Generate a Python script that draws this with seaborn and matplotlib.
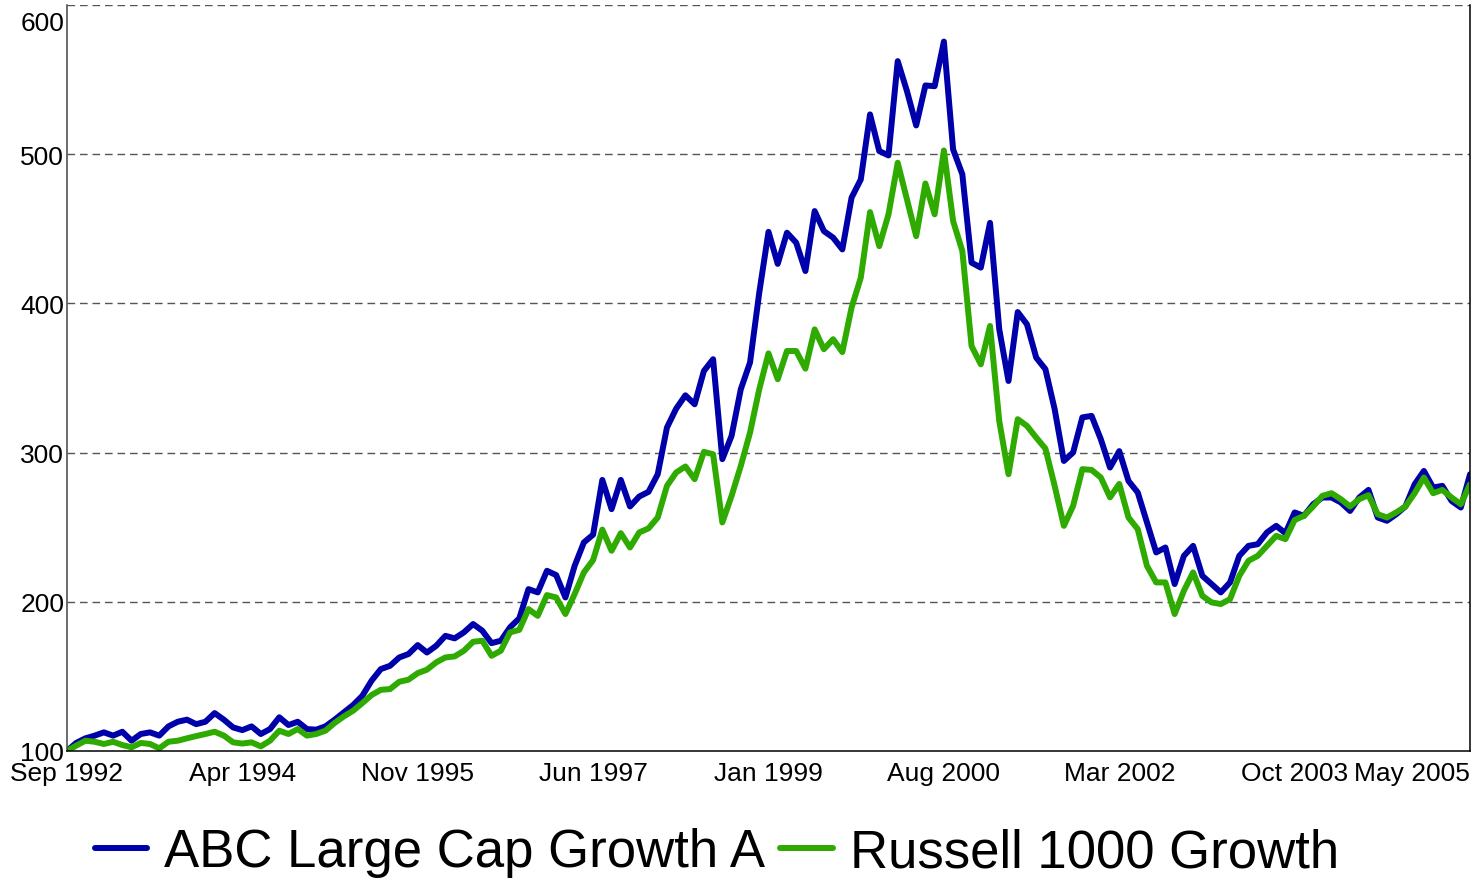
import numpy as np
import pandas as pd
import seaborn as sns
import matplotlib.pyplot as plt
import matplotlib.transforms as mtransforms

# monthly growth of 100, Sep 1992 - May 2005
fund = [100, 105.4, 108.5, 110.3, 112.5, 110.3, 112.9, 106.9, 111.4, 112.5,
        110.3, 116.5, 119.6, 121, 118, 119.6, 125.4, 121, 115.8, 114,
        116.5, 111.4, 114.7, 122.6, 117.4, 119.6, 114.7, 114.3, 116.5, 121,
        125.9, 130.8, 137, 147.1, 154.9, 157.1, 162.7, 165, 171, 166,
        170.5, 177.2, 175.5, 179.5, 185.1, 180.6, 172.3, 173.9, 182.9, 188.9,
        208.5, 206.3, 220.8, 217.9, 202.9, 224.1, 239.8, 245, 281.7, 262.1,
        281.7, 263.9, 270.6, 273.7, 285.5, 316.8, 329.5, 338.4, 332.4, 354.7,
        362.6, 295.6, 311.2, 342.5, 360.4, 407.2, 448, 426.5, 447.4, 440.7,
        421.7, 461.9, 448.5, 444.1, 436.2, 470.9, 483.1, 526.7, 502.1, 499.2,
        562.4, 542.3, 519.3, 546.1, 545.6, 575.5, 503.2, 486.5, 427.3, 424,
        454, 382.6, 348, 394.2, 386, 363.7, 355.9, 329.1, 294.4, 300.1,
        323.6, 324.6, 309, 290, 301, 281, 273.3, 253.2, 233.1, 236.4,
        211.9, 230.8, 237.5, 217.4, 211.9, 206.3, 213, 230.8, 237.5, 238.6,
        246.5, 250.9, 246, 259.9, 257.6, 265.4, 269.9, 269.9, 266.6, 260.9,
        269.9, 275, 256.5, 254.3, 258.7, 263.9, 278.8, 287.7, 276.6, 277.7,
        267.6, 263.2, 285.5]

bench = [100, 103.6, 106.9, 106.2, 104.7, 106.2, 104, 102.5, 105.4, 104.7,
         101.8, 106.2, 106.9, 108.5, 110, 111.4, 112.9, 110.3, 105.8, 105,
         105.8, 103.1, 106.9, 113.6, 111.4, 114.7, 110.3, 111.4, 113.6, 118.8,
         123.2, 127, 132.1, 137.5, 141, 141.5, 146.4, 147.8, 152.2, 154.5,
         159.4, 162.7, 163.4, 167.2, 173.2, 173.9, 163.8, 167.2, 179.5, 181.2,
         195.1, 190.6, 204.5, 202.9, 191.8, 205.2, 219.7, 228, 248.4, 234.2,
         246, 236.4, 246.5, 249.2, 256.5, 277.7, 286.7, 290.7, 282.2, 300.5,
         298.9, 253.2, 271, 291.1, 313.4, 342.5, 366.5, 349.2, 368.1, 368.1,
         356.3, 382.6, 369.3, 376, 367.4, 397.2, 417.3, 461.2, 438.4, 459.7,
         494.3, 469.7, 445.1, 480.4, 459.7, 502.5, 455.2, 435.1, 371.4, 359.2,
         384.9, 321.1, 285.5, 322.4, 317.9, 310.1, 302.7, 277.7, 250.9, 264.3,
         288.9, 288.4, 283.3, 270, 279, 256.5, 248.7, 224.1, 213, 213,
         191.8, 207.4, 219.7, 204, 199.6, 198.5, 201.8, 217.4, 227.5, 230.8,
         237.5, 244.2, 242, 254.8, 257.6, 263.9, 271, 272.8, 268.8, 263.9,
         268.8, 271.5, 258.7, 256.5, 259.9, 263.9, 272.8, 283.3, 272.8, 275,
         269.9, 265.4, 278.8]

series_names = ["ABC Large Cap Growth A", "Russell 1000 Growth"]
tick_labels = ["Sep 1992", "Apr 1994", "Nov 1995", "Jun 1997", "Jan 1999",
               "Aug 2000", "Mar 2002", "Oct 2003", "May 2005"]
y_ticks = [100, 200, 300, 400, 500, 600]

month = np.arange(len(fund))
df = pd.DataFrame({
    "month": np.concatenate([month, month]),
    "value": fund + bench,
    "series": [series_names[0]] * len(fund) + [series_names[1]] * len(bench),
})

sns.set_style("white")
plt.rcParams["font.family"] = ["Liberation Sans Narrow", "Liberation Sans", "DejaVu Sans"]
plt.rcParams["text.color"] = "black"

fig, ax = plt.subplots(figsize=(14.81, 8.87), dpi=100)
fig.subplots_adjust(left=0.0452, right=0.9926, bottom=0.1522, top=0.9932)

sns.lineplot(data=df, x="month", y="value", hue="series",
             palette=["#0000AA", "#2EAA00"], linewidth=4.3, ax=ax)

ax.set_xlim(0, len(fund) - 1)
ax.set_ylim(100, 600)
ax.set_xticks(month[::19])
ax.set_xticklabels(tick_labels)
ax.set_yticks(y_ticks)
ax.set_xlabel("")
ax.set_ylabel("")

for y in y_ticks[1:]:
    ax.axhline(y, color="#555555", lw=1, dashes=(5.5, 3.5), zorder=0)

ax.tick_params(axis="x", direction="in", length=7, width=1, color="#666666",
               labelsize=19, labelcolor="black", pad=7)
ax.tick_params(axis="y", direction="in", length=4, width=1, color="#444444",
               labelsize=19, labelcolor="black", pad=2)
ax.get_xticklabels()[-1].set_ha("right")
top_lbl = ax.get_yticklabels()[-1]
top_lbl.set_va("top")
top_lbl.set_transform(top_lbl.get_transform() +
                      mtransforms.ScaledTranslation(0, -4 / 72, fig.dpi_scale_trans))

ax.spines["top"].set_visible(False)
ax.spines["left"].set_color("#444444")
ax.spines["bottom"].set_color("black")
ax.spines["right"].set_color("black")
for s in ["left", "bottom", "right"]:
    ax.spines[s].set_linewidth(1.1)

handles, labels = ax.get_legend_handles_labels()
ax.get_legend().remove()
fig.legend(handles, labels, loc="center", bbox_to_anchor=(0.484, 0.038),
           ncol=2, frameon=False, fontsize=38, handlelength=1.0,
           handletextpad=0.32, columnspacing=0.28, borderpad=0,
           labelcolor="black")

plt.savefig("out.png", dpi=100)
